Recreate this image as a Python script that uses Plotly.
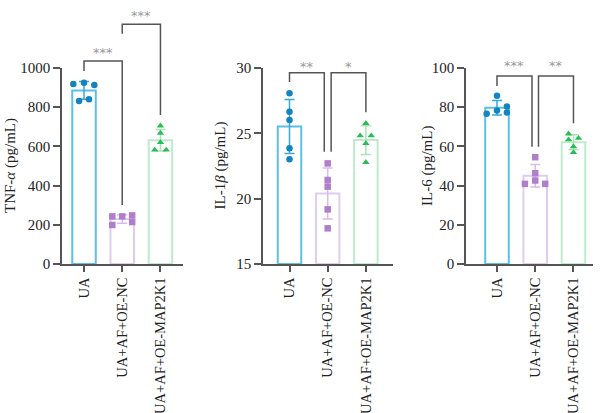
import numpy as np
import plotly.graph_objects as go

# ---------------- data ----------------
categories = ["UA", "UA+AF+OE-NC", "UA+AF+OE-MAP2K1"]

tnf_ua = [918, 925, 913, 832, 840]
tnf_nc = [243, 243, 248, 199, 214]
tnf_map = [705, 668, 620, 582, 582]

il1b_ua = [28.06, 26.65, 26.02, 23.85, 23.01]
il1b_nc = [22.70, 21.43, 20.92, 19.18, 17.73]
il1b_map = [25.77, 24.82, 24.82, 24.23, 22.78]

il6_ua = [85.8, 76.6, 78.3, 80.4, 77.3]
il6_nc = [54.5, 46.3, 42.6, 40.9, 40.9]
il6_map = [66.4, 63.4, 64.2, 59.9, 56.9]

y_titles = ["TNF-<i>α</i> (pg/mL)", "IL-1<i>β</i> (pg/mL)", "IL-6 (pg/mL)"]
y_ranges = [(0, 1000), (15, 30), (0, 100)]
y_ticks = [[0, 200, 400, 600, 800, 1000], [15, 20, 25, 30], [0, 20, 40, 60, 80, 100]]

# significance labels: (group a, group b, label, bracket level, leg-bottom a, leg-bottom b)
sig_tnf = [(0, 1, "***", 1036, 985, 301), (1, 2, "***", 1223, 1175, 760)]
sig_il1b = [(0, 1, "**", 29.64, 28.93, 23.59), (1, 2, "*", 29.64, 23.59, 26.61)]
sig_il6 = [(0, 1, "***", 95.9, 90.8, 59.8), (1, 2, "**", 95.9, 59.8, 71.8)]
star_levels = [[1092, 1283], [30.36, 30.36], [102.7, 102.7]]

# ---------------- layout / style ----------------
panels = [
    [tnf_ua, tnf_nc, tnf_map],
    [il1b_ua, il1b_nc, il1b_map],
    [il6_ua, il6_nc, il6_map],
]
sigs = [sig_tnf, sig_il1b, sig_il6]

# point jitter (category units), bracket inner gap per panel
jitter = [
    [[-0.28, 0, 0.27, -0.13, 0.13], [-0.26, 0, 0.26, -0.26, 0.26], [0, 0, 0, -0.15, 0.15]],
    [[0, 0, 0, 0, 0], [0, 0, 0, 0, 0], [0, -0.15, 0.14, 0, 0]],
    [[0, -0.27, 0, 0.26, 0.26], [0, 0, 0, -0.27, 0.26], [-0.13, -0.13, 0.13, 0, 0]],
]
bracket_gap = [0.0, 0.09, 0.085]

W, H = 600, 413
px_x = [(62, 183), (263, 393), (466, 593)]
x_ranges = [(-0.576, 2.59), (-0.694, 2.71), (-0.81, 2.51)]
plot_top_px, plot_bot_px = 68, 264
ydom = [1 - plot_bot_px / H, 1 - plot_top_px / H]
title_x_px = [10, 219.5, 427]

outline_cols = ["#5BC0E6", "#E0CCEE", "#BDEBCB"]
err_cols = ["#3AA8DA", "#D6BCE8", "#A9E3BA"]
pt_cols = ["#1384BE", "#B07ECB", "#2BBD55"]
symbols = ["circle", "square", "triangle-up"]
axis_col = "#555555"
font_serif = "Liberation Serif"

fig = go.Figure()
shapes = []
annotations = []

for p in range(3):
    sfx = "" if p == 0 else str(p + 1)
    xa, ya = "x" + sfx, "y" + sfx
    ya_ext = "y" + str(p + 4)
    groups = panels[p]
    idx = np.arange(len(categories))
    lo, hi = y_ranges[p]
    means = [float(np.mean(g)) for g in groups]
    sds = [float(np.std(g, ddof=1)) for g in groups]
    for i in idx:
        fig.add_trace(go.Bar(
            x=[i], y=[means[i] - lo], base=lo, width=0.615,
            marker=dict(color="white", line=dict(color=outline_cols[i], width=2)),
            error_y=dict(type="data", array=[sds[i]], color=err_cols[i], thickness=1.5, width=5),
            xaxis=xa, yaxis=ya, showlegend=False, hoverinfo="skip",
        ))
    for i in idx:
        fig.add_trace(go.Scatter(
            x=[i + j for j in jitter[p][i]], y=groups[i], mode="markers",
            marker=dict(symbol=symbols[i], color=pt_cols[i], size=6.5, line=dict(width=0)),
            xaxis=xa, yaxis=ya, showlegend=False, hoverinfo="skip", cliponaxis=False,
        ))
    # invisible trace on extended axis for brackets
    fig.add_trace(go.Scatter(x=[None], y=[None], xaxis=xa, yaxis=ya_ext,
                             showlegend=False, hoverinfo="skip"))

    x0, x1 = px_x[p]
    fig.layout["xaxis" + sfx] = dict(
        domain=[x0 / W, x1 / W], range=list(x_ranges[p]), anchor=ya, automargin=False,
        tickmode="array", tickvals=list(idx), ticktext=categories, tickangle=-90,
        showline=True, linecolor=axis_col, linewidth=1.5,
        ticks="outside", ticklen=6, tickwidth=1.5, tickcolor=axis_col,
        showgrid=False, zeroline=False,
        tickfont=dict(family=font_serif, size=14.5, color="#222"),
    )
    fig.layout["yaxis" + sfx] = dict(
        domain=ydom, range=[lo, hi], anchor=xa, automargin=False,
        tickmode="array", tickvals=y_ticks[p],
        showline=True, linecolor=axis_col, linewidth=1.5,
        ticks="outside", ticklen=7, tickwidth=1.5, tickcolor=axis_col,
        showgrid=False, zeroline=False,
        tickfont=dict(family=font_serif, size=15, color="#222"),
    )
    ext_hi = lo + (hi - lo) * plot_bot_px / (plot_bot_px - plot_top_px)
    fig.layout["yaxis" + str(p + 4)] = dict(
        domain=[ydom[0], 1.0], range=[lo, ext_hi], anchor=xa, visible=False, automargin=False,
    )

    # y-axis title
    annotations.append(dict(
        x=title_x_px[p] / W, y=(ydom[0] + ydom[1]) / 2, xref="paper", yref="paper",
        text=y_titles[p], textangle=-90, showarrow=False, xanchor="center", yanchor="middle",
        font=dict(family=font_serif, size=15, color="#222"),
    ))

    g = bracket_gap[p]
    for k, (a, b, lab, lvl, ba, bb) in enumerate(sigs[p]):
        xa_pos = a + (g if a == 1 else 0)
        xb_pos = b - (g if b == 1 else 0)
        shapes.append(dict(
            type="path", xref=xa, yref=ya_ext,
            path=f"M {xa_pos},{ba} L {xa_pos},{lvl} L {xb_pos},{lvl} L {xb_pos},{bb}",
            line=dict(color=axis_col, width=1.5),
        ))
        annotations.append(dict(
            x=(xa_pos + xb_pos) / 2, y=star_levels[p][k], xref=xa, yref=ya_ext,
            text=lab, showarrow=False, yanchor="middle", yshift=-3,
            font=dict(family="DejaVu Sans", size=13, color="#9A9A9A"),
        ))

fig.update_layout(
    template="none",
    width=W, height=H, margin=dict(l=0, r=0, t=0, b=0, autoexpand=False),
    paper_bgcolor="white", plot_bgcolor="rgba(0,0,0,0)",
    barmode="overlay", shapes=shapes, annotations=annotations,
    showlegend=False,
)

fig.write_html("out.html")
